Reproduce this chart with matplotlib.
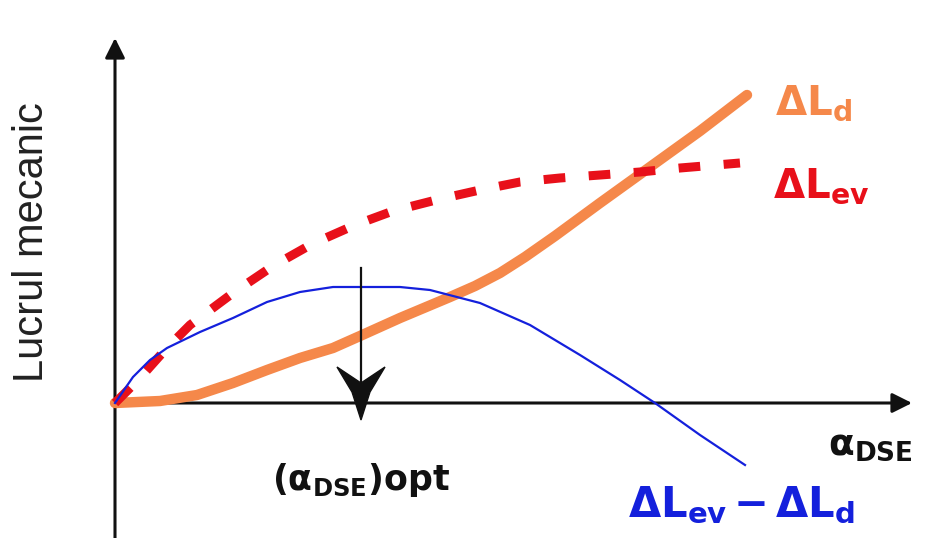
import matplotlib.pyplot as plt
from matplotlib.patches import Polygon

# curve samples: alpha_DSE (x) against mechanical work (y), origin at the axes crossing
alpha_d = [0, 45, 82, 118, 152, 185, 218, 245, 285, 335, 360, 385, 410, 440, 485, 535, 585, 632]
work_d = [0, 2, 8, 20, 33, 45, 55, 67, 85, 106, 117, 130, 146, 167, 200, 236, 272, 308]

alpha_ev = [0, 25, 50, 75, 118, 158, 197, 240, 278, 325, 365, 405, 445, 485, 525, 565, 625]
work_ev = [0, 25, 53, 78, 110, 137, 159, 178, 192, 204, 213, 221, 225, 228, 231, 235, 240]

alpha_diff = [0, 18, 35, 52, 85, 118, 152, 185, 218, 285, 315, 365, 415, 465, 505, 540, 585, 630]
work_diff = [0, 26, 43, 55, 71, 85, 101, 111, 116, 116, 113, 100, 78, 48, 23, 0, -32, -62]

alpha_opt = 246
arrow_top = 135
arrow_tip = -17

c_orange = "#F5884A"
c_red = "#E8101A"
c_blue = "#1420DC"

fig = plt.figure(figsize=(9.29, 5.38), dpi=100)
ax = fig.add_axes([0, 0, 1, 1])
ax.set_xlim(-115, 814)
ax.set_ylim(-135, 403)
ax.axis("off")

# axes with arrow heads
ax.annotate("", xy=(0, 365), xytext=(0, -135),
            arrowprops=dict(arrowstyle="-|>,head_length=0.6,head_width=0.3",
                            lw=2.2, color="#111111", mutation_scale=20,
                            shrinkA=0, shrinkB=0))
ax.annotate("", xy=(797, 0), xytext=(0, 0),
            arrowprops=dict(arrowstyle="-|>,head_length=0.6,head_width=0.3",
                            lw=2.2, color="#111111", mutation_scale=20,
                            shrinkA=0, shrinkB=0))

# curves
ax.plot(alpha_d, work_d, color=c_orange, lw=7.5, solid_capstyle="round", zorder=3)
ax.plot(alpha_ev, work_ev, color=c_red, lw=6.5, dashes=(2.4, 2.6), zorder=3)
ax.plot(alpha_diff, work_diff, color=c_blue, lw=1.6, zorder=4)

# optimum marker arrow
head = [(0, 0), (-9, 28), (-24, 53), (-12, 45), (0, 37), (12, 45), (24, 53), (9, 28)]
ax.plot([alpha_opt, alpha_opt], [arrow_top, arrow_tip + 30], color="#111111", lw=1.6, zorder=5)
ax.add_patch(Polygon([(alpha_opt + dx, arrow_tip + dy) for dx, dy in head],
                     closed=True, color="#111111", zorder=5))

# labels
ax.text(660, 289, r"$\mathbf{\Delta L}_{\mathbf{d}}$", color=c_orange, fontsize=29)
ax.text(658, 206, r"$\mathbf{\Delta L}_{\mathbf{ev}}$", color=c_red, fontsize=29)
ax.text(513, -114, r"$\mathbf{\Delta L}_{\mathbf{ev}}\,\mathbf{-}\,\mathbf{\Delta L}_{\mathbf{d}}$",
        color=c_blue, fontsize=30)
ax.text(713, -52, r"$\mathbf{\alpha}_{\mathbf{DSE}}$", color="#111111", fontsize=27)
ax.text(alpha_opt, -87, r"$\mathbf{(\alpha}_{\mathbf{DSE}}\mathbf{)opt}$",
        color="#111111", fontsize=25, ha="center")
ax.text(-83, 161, "Lucrul mecanic", rotation=90, ha="center", va="center",
        fontsize=30, family="Liberation Sans", color="#222222")

fig.savefig("out.png", dpi=100)
